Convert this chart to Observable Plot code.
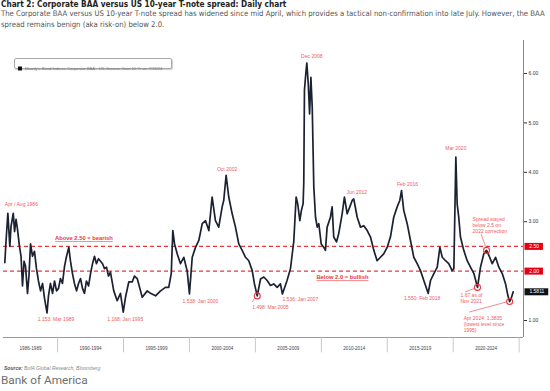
<!DOCTYPE html>
<html><head><meta charset="utf-8">
<script src="https://cdn.jsdelivr.net/npm/d3@7"></script>
<script src="https://cdn.jsdelivr.net/npm/@observablehq/plot@0.6"></script>
<style>
body{margin:0;width:550px;height:391px;overflow:hidden;background:#fff;position:relative;font-family:"Liberation Sans Narrow","DejaVu Sans Condensed","Liberation Sans",sans-serif;}
#title{position:absolute;left:1px;top:0px;font-size:8.2px;line-height:9px;font-weight:bold;color:#222;white-space:nowrap;}
#sub{position:absolute;left:1px;top:8px;font-size:7.7px;line-height:11px;color:#555;width:546px;}
#chart{position:absolute;left:0;top:30px;}
#legend{position:absolute;left:14px;top:58px;width:156px;height:9px;border:1px solid #aaa;border-radius:2px;box-shadow:1px 1px 1px #ccc;background:#fff;font-family:"Liberation Sans",sans-serif;}
#source{position:absolute;left:4px;top:358px;font-family:"Liberation Sans",sans-serif;}
#boa{position:absolute;left:1px;top:373px;font-size:11.8px;color:#6e6e6e;font-family:"Liberation Sans Narrow","Roboto",sans-serif;}
</style></head>
<body>
<div id="title">Chart 2: Corporate BAA versus US 10-year T-note spread: Daily chart</div>
<div id="sub">The Corporate BAA versus US 10-year T-note spread has widened since mid April, which provides a tactical non-confirmation into late July. However, the BAA spread remains benign (aka risk-on) below 2.0.</div>
<div id="chart"></div>
<div id="legend"><svg width="156" height="9"><rect x="3" y="2.5" width="4" height="4" fill="#111"/><text x="10" y="6.2" font-size="4.2" fill="#777">Moody's Bond Indices Corporate BAA - US Generic Govt 10 Yr on 7/19/24</text></svg></div>
<div id="source"><svg width="200" height="8"><text x="0" y="6" font-size="5" fill="#888" font-style="italic"><tspan font-weight="bold" fill="#555">Source:</tspan> BofA Global Research, Bloomberg</text></svg></div>
<div id="boa">Bank of America</div>
<script>
// ---- data ----
const years = [1986.00,1986.09,1986.23,1986.38,1986.47,1986.64,1986.74,1986.85,1986.96,1987.11,1987.23,1987.34,1987.46,1987.57,1987.72,1987.83,1987.95,1988.10,1988.25,1988.40,1988.55,1988.71,1988.86,1989.01,1989.20,1989.31,1989.46,1989.62,1989.77,1989.92,1990.07,1990.22,1990.37,1990.53,1990.68,1990.85,1990.98,1991.13,1991.28,1991.44,1991.59,1991.74,1991.89,1992.04,1992.19,1992.35,1992.50,1992.65,1992.80,1992.95,1993.10,1993.26,1993.41,1993.56,1993.71,1993.86,1994.01,1994.26,1994.52,1994.77,1994.98,1995.15,1995.40,1995.66,1995.83,1996.04,1996.29,1996.42,1996.80,1997.05,1997.43,1997.81,1998.18,1998.43,1998.62,1998.74,1998.87,1999.07,1999.32,1999.57,1999.83,2000.00,2000.21,2000.46,2000.71,2000.97,2001.22,2001.47,2001.72,2001.97,2002.22,2002.48,2002.60,2002.78,2002.98,2003.24,2003.49,2003.74,2004.00,2004.25,2004.50,2004.76,2004.93,2005.14,2005.39,2005.64,2005.89,2006.14,2006.39,2006.65,2006.90,2007.05,2007.40,2007.66,2007.91,2008.09,2008.21,2008.37,2008.49,2008.62,2008.67,2008.72,2008.82,2008.90,2009.01,2009.11,2009.21,2009.31,2009.43,2009.56,2009.69,2009.81,2009.99,2010.19,2010.31,2010.44,2010.69,2010.82,2010.94,2011.15,2011.32,2011.58,2011.75,2011.96,2012.16,2012.34,2012.46,2012.72,2012.97,2013.22,2013.48,2013.73,2013.98,2014.23,2014.48,2014.73,2014.99,2015.24,2015.49,2015.75,2015.95,2016.08,2016.25,2016.51,2016.76,2017.01,2017.27,2017.52,2017.77,2018.10,2018.28,2018.53,2018.79,2018.99,2019.17,2019.42,2019.66,2019.92,2020.05,2020.20,2020.30,2020.42,2020.55,2020.80,2021.06,2021.31,2021.57,2021.84,2022.07,2022.32,2022.53,2022.70,2022.96,2023.21,2023.46,2023.72,2023.97,2024.15,2024.28,2024.40,2024.55];
const spread = [2.17,2.60,3.17,2.50,2.90,3.17,2.80,3.05,2.85,2.50,2.30,1.70,2.20,2.10,1.55,1.90,2.55,2.30,2.40,2.05,1.80,1.60,1.75,1.45,1.153,1.50,1.75,1.55,1.80,1.60,1.65,1.85,1.75,2.10,2.30,2.48,2.20,1.95,1.75,1.60,1.75,1.85,1.65,1.55,1.80,1.70,1.95,2.15,2.30,2.15,2.25,2.20,2.15,2.05,2.08,1.90,1.98,1.60,1.40,1.55,1.168,1.47,1.78,1.78,1.90,1.85,1.60,1.47,1.60,1.55,1.50,1.60,1.67,1.67,1.95,2.82,2.55,2.35,2.15,2.28,2.00,1.538,2.28,2.48,2.62,2.96,3.02,2.82,3.50,3.02,2.89,3.30,3.43,3.94,3.50,3.16,2.89,2.55,2.42,2.28,2.21,2.01,1.74,1.498,1.84,1.88,1.81,1.71,1.74,1.67,1.74,1.536,1.81,2.05,2.60,3.50,3.36,3.02,3.23,3.37,3.80,5.66,5.99,6.21,5.79,5.18,5.92,5.32,3.70,3.09,2.89,2.96,2.55,2.48,2.42,2.89,3.09,3.30,2.69,2.59,2.76,3.16,3.50,3.16,3.30,3.43,3.46,3.09,2.89,2.92,2.82,2.69,2.42,2.21,2.28,2.35,2.48,2.69,3.09,3.30,3.43,3.63,3.23,2.96,2.62,2.28,2.15,2.01,1.81,1.55,1.81,1.95,2.08,2.48,2.28,2.21,2.15,2.01,2.05,4.31,3.36,3.09,2.69,2.42,2.21,2.08,1.95,1.67,2.08,2.35,2.42,2.32,2.15,2.28,2.08,1.95,1.74,1.50,1.3835,1.45,1.5811];
const yTicks = [1, 3, 4, 5, 6];
const thresholds = [2.5, 2.0];
const thresholdLabels = ["2.50", "2.00"];
const lastLabel = "1.5811";
const periodLabels = ["1986-1989","1990-1994","1995-1999","2000-2004","2005-2009","2010-2014","2015-2019","2020-2024"];
const periodEdges = [1990, 1995, 2000, 2005, 2010, 2015, 2020, 2025];
const peakLabels = ["Apr / Aug 1986", "Oct 2002", "Dec 2008", "Jun 2012", "Feb 2016", "Mar 2020"];
const peakYears = [1986.23, 2002.78, 2008.90, 2012.46, 2016.08, 2020.20];
const peakValues = [3.17, 3.94, 6.21, 3.46, 3.63, 4.31];
const lowLabels = ["1.153: Mar 1989", "1.168: Jan 1995", "1.538: Jan 2000", "1.498: Mar 2005", "1.536: Jan 2007", "1.550: Feb 2018"];
const lowYears = [1989.20, 1994.98, 2000.00, 2005.14, 2007.05, 2018.10];
const lowValues = [1.153, 1.168, 1.538, 1.498, 1.536, 1.55];
const circleYears = [2005.14, 2021.84, 2022.53, 2024.28];
const circleValues = [1.498, 1.67, 2.42, 1.3835];
const noteNov2021 = "1.67 as of\nNov 2021";
const note2022 = "Spread stayed\nbelow 2.5 on\n2022 correction";
const noteApr2024 = "Apr 2024: 1.3835\n(lowest level since\n1995)";
const bearishText = "Above 2.50 = bearish";
const bullishText = "Below 2.0 = bullish";

// ---- layout ----
const RED = "#e8383e", LRED = "#ef5a5f";
const xMin = 1985.9, xMax = 2025.33, yMin = 0.656, yMax = 6.668;
const pts = years.map((t, i) => ({t, v: spread[i]}));
const fs = 5, ff = "Liberation Sans, Arial, sans-serif";
const txt = (label, t, v, dx, dy, anchor = "middle", extra = {}) =>
  Plot.text([label], {x: () => t, y: () => v, text: d => d, dx, dy, textAnchor: anchor,
    fill: LRED, fontSize: fs, fontFamily: ff, ...extra});
const peakOff = [[-3, -9, "start"], [1, -6], [5, -7], [3, -7], [6, -6], [0, -9]];
const lowOff = [[9, 6], [2, 7], [11, 7], [-5, 11, "start"], [0, 5, "start"], [-6, 5]];
const periodMid = periodLabels.map((_, i) => i === 0 ? (xMin + periodEdges[0]) / 2 : (periodEdges[i - 1] + periodEdges[i]) / 2);

const chart = Plot.plot({
  width: 550, height: 330,
  marginLeft: 3, marginRight: 27, marginTop: 10, marginBottom: 23,
  x: {domain: [xMin, xMax], axis: null},
  y: {domain: [yMin, yMax], axis: "right", ticks: yTicks, tickFormat: d3.format(".2f"), tickSize: 3, tickPadding: 2, label: null},
  style: {background: "transparent", overflow: "visible", fontSize: "5px", fontFamily: ff, color: "#333"},
  marks: [
    Plot.ruleX([xMax], {stroke: "#8a8a8a", strokeWidth: 1}),
    Plot.ruleY([yMin], {stroke: "#9a9a9a", strokeWidth: 1}),
    Plot.ruleX(periodEdges, {y1: yMin, y2: yMin - 0.31, stroke: "#bbb", strokeWidth: 0.8}),
    Plot.text(periodLabels, {x: (d, i) => periodMid[i], y: yMin - 0.225, text: d => d, fill: "#444", fontSize: 4.6}),
    Plot.ruleY(thresholds, {stroke: RED, strokeWidth: 1.2, strokeDasharray: "4,3"}),
    Plot.line(pts, {x: "t", y: "v", stroke: "#1b2130", strokeWidth: 1.7, strokeLinejoin: "round"}),
    Plot.dot(circleYears.map((t, i) => ({t, v: circleValues[i]})), {x: "t", y: "v", r: 3, stroke: RED, strokeWidth: 1.1, fill: "none"}),
    ...peakLabels.map((l, i) => txt(l, peakYears[i], peakValues[i], peakOff[i][0], peakOff[i][1], peakOff[i][2])),
    ...lowLabels.map((l, i) => txt(l, lowYears[i], lowValues[i], lowOff[i][0], lowOff[i][1], lowOff[i][2])),
    txt(noteNov2021, circleYears[1], circleValues[1], -17, 5, "start", {lineAnchor: "top", lineHeight: 1.25}),
    txt(note2022, circleYears[2], circleValues[2], -14, -34, "start", {lineAnchor: "top", lineHeight: 1.2}),
    txt(noteApr2024, circleYears[3], circleValues[3], -46, 14, "start", {lineAnchor: "top", lineHeight: 1.25}),
    txt(bearishText, 1992.0, thresholds[0], 0, -8.3, "middle", {fontWeight: "bold", fontSize: 5.8, fill: RED, className: "ul"}),
    txt(bullishText, 2011.6, thresholds[1], 0, 6.5, "middle", {fontWeight: "bold", fontSize: 5.8, fill: RED, className: "ul"}),
    Plot.ruleY(thresholds, {x1: xMax, x2: xMax + 1.4, dx: 1.5, stroke: "#e60012", strokeWidth: 7}),
    Plot.text(thresholdLabels, {x: xMax + 0.7, y: (d, i) => thresholds[i], dx: 1.5, text: d => d, fill: "#fff", fontSize: 5}),
    Plot.ruleY([spread[spread.length - 1]], {x1: xMax, x2: xMax + 1.8, dx: 1.5, stroke: "#111", strokeWidth: 7}),
    Plot.text([lastLabel], {x: xMax + 0.9, y: spread[spread.length - 1], dx: 1.5, text: d => d, fill: "#fff", fontSize: 5})
  ]
});
document.getElementById("chart").appendChild(chart);

// underline the threshold captions and add leader lines through the plot scales
d3.select(chart).selectAll("g.ul text").style("text-decoration", "underline");
const sx = chart.scale("x"), sy = chart.scale("y");
const leaders = [[0, -2, 2.5, -4.5, 6.5], [1, -2.5, 1.5, -12, 5], [2, -0.5, -3, -5, -16], [3, -3, 1, -40, 11]];
const g = d3.select(chart).append("g").attr("stroke", LRED).attr("stroke-width", 0.7);
for (const [i, ax, ay, bx, by] of leaders) {
  const px = sx.apply(circleYears[i]), py = sy.apply(circleValues[i]);
  g.append("line").attr("x1", px + ax).attr("y1", py + ay).attr("x2", px + bx).attr("y2", py + by);
}
</script>
</body></html>
